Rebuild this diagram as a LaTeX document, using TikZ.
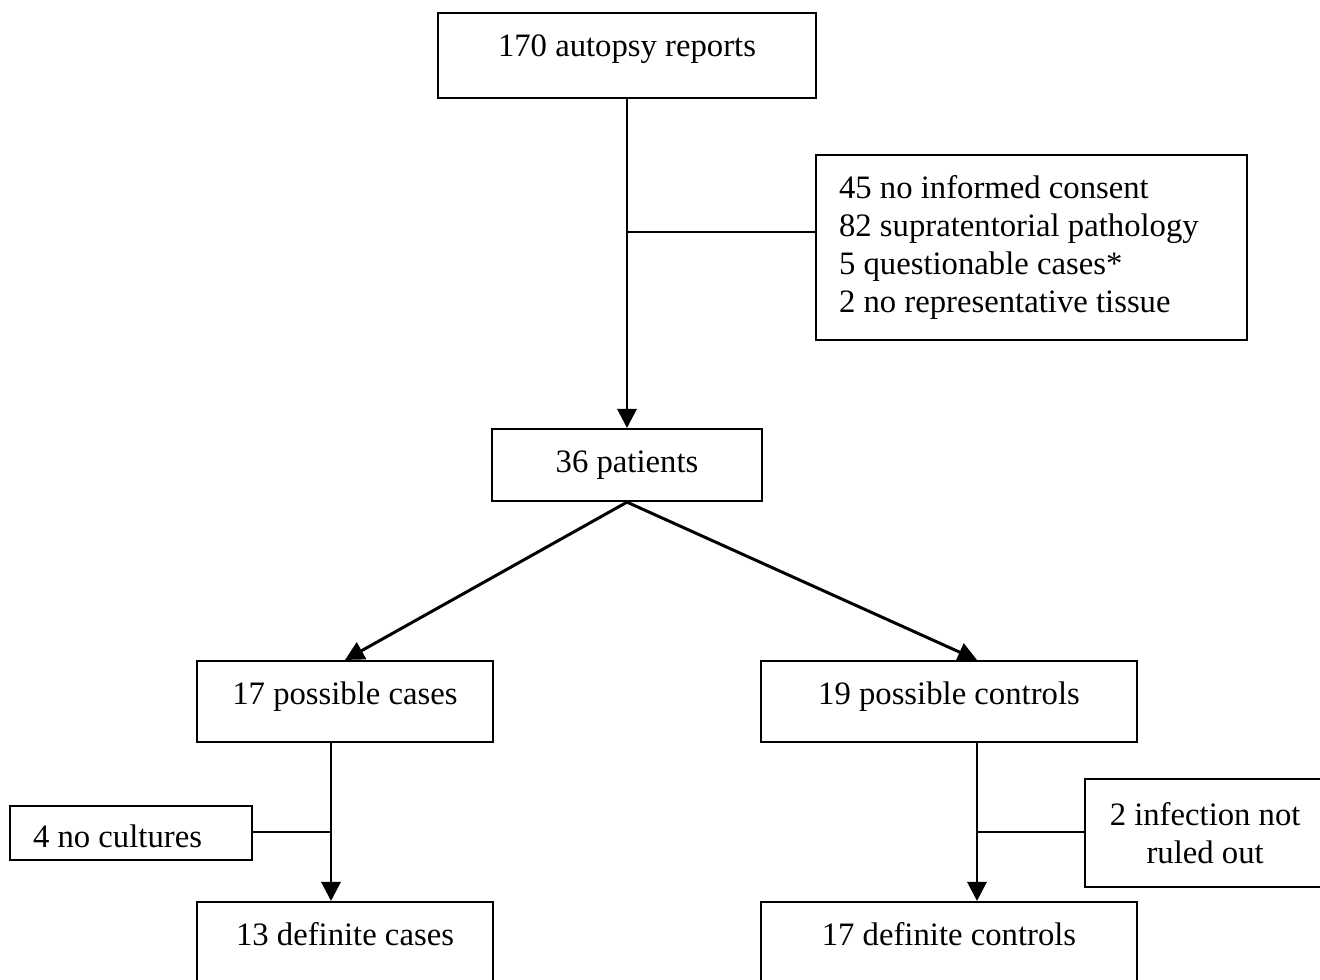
\documentclass[tikz,border=0pt]{standalone}
\usepackage{fontspec}
\setmainfont{Liberation Serif}
\usetikzlibrary{arrows.meta}
\begin{document}
\begin{tikzpicture}[x=0.01cm, y=-0.01cm,
		font=\fontsize{9.3}{10.8}\selectfont,
		box/.style={draw, line width=0.6pt, inner sep=0pt, text height=4.3mm},
		note/.style={draw, line width=0.6pt, inner sep=0pt},
		flow/.style={line width=0.85pt, -{Triangle[length=1.9mm,width=1.9mm]}},
		side/.style={line width=0.6pt}]
				\fill[white] (0,0) rectangle (1320,980);
				\useasboundingbox (0,0) rectangle (1320,980);
				\clip (0,0) rectangle (1320,980);
				
				\node[box, anchor=north, minimum width=3.78cm, text depth=4.2mm] (reports) at (627,12) {170 autopsy reports};
				\node[note, anchor=north west, text width=3.85cm, inner xsep=2.3mm, minimum height=1.85cm, align=flush left] (excl) at (815,154) {45 no informed consent\\82 supratentorial pathology\\5 questionable cases*\\2 no representative tissue};
				\node[box, anchor=north, minimum width=2.69cm, text depth=2.9mm] (patients) at (627,428) {36 patients};
				
				\node[box, anchor=north, minimum width=2.96cm, text depth=3.8mm] (cases) at (345,660) {17 possible cases};
				\node[box, anchor=north, minimum width=3.76cm, text depth=3.8mm] (controls) at (949,660) {19 possible controls};
				
				\node[box, anchor=north west, text width=1.96cm, inner xsep=2.3mm, text height=4.1mm, text depth=1.3mm, align=flush left] (nocult) at (9,805) {4 no cultures};
				\node[note, anchor=north west, text width=2.1cm, inner xsep=1.5mm, minimum height=1.08cm, align=flush center] (infect) at (1084,778) {2 infection not\\ruled out};
				
				\node[box, anchor=north, minimum width=2.96cm, text depth=4.2mm] (defcases) at (345,901) {13 definite cases};
				\node[box, anchor=north, minimum width=3.76cm, text depth=4.2mm] (defctrl) at (949,901) {17 definite controls};
				
				\coordinate (tjoin) at (627,232);
				\coordinate (ljoin) at (331,832);
				\coordinate (rjoin) at (977,832);
				
				\draw[flow] (reports.south) -- (patients.north);
				\draw[side] (tjoin) -- (tjoin -| excl.west);
				
				\draw[flow] (patients.south) -- (cases.north);
				\draw[flow] (patients.south) -- (rjoin |- controls.north);
				
				\draw[flow] (ljoin |- cases.south) -- (ljoin |- defcases.north);
				\draw[side] (ljoin) -- (ljoin -| nocult.east);
				\draw[flow] (rjoin |- controls.south) -- (rjoin |- defctrl.north);
				\draw[side] (rjoin) -- (rjoin -| infect.west);
				
		\end{tikzpicture}
\end{document}
